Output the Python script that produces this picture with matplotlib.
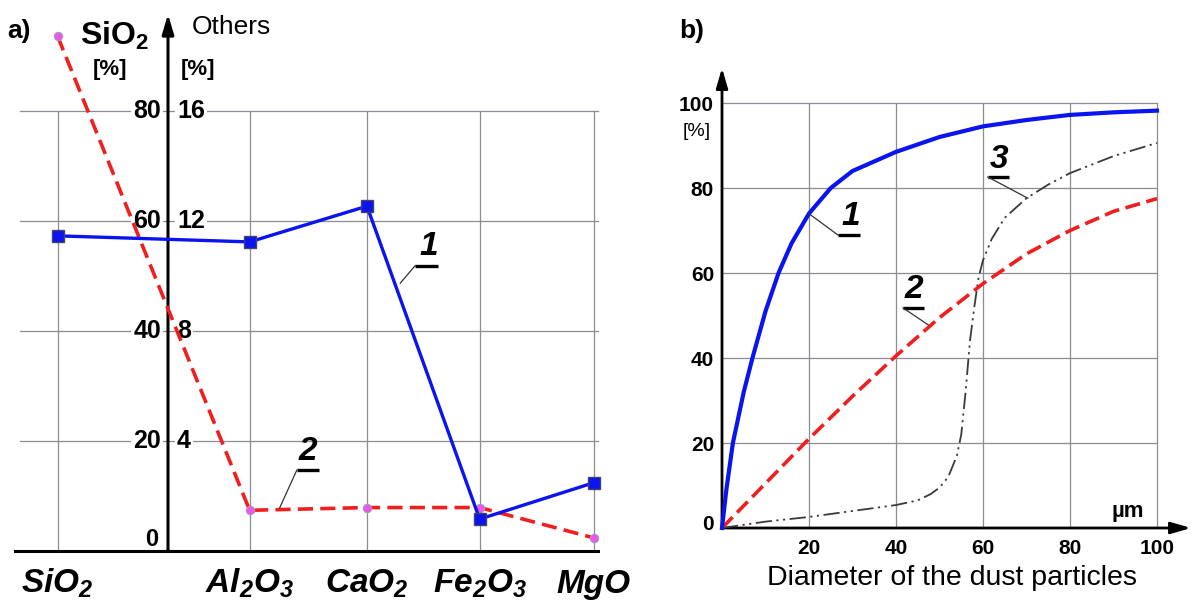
import matplotlib
matplotlib.use("Agg")
import matplotlib.pyplot as plt

plt.rcParams['font.family'] = ['Liberation Sans', 'DejaVu Sans']
plt.rcParams['mathtext.default'] = 'regular'

# ---------------- data ----------------
# panel a)
categories = ["SiO$_2$", "Al$_2$O$_3$", "CaO$_2$", "Fe$_2$O$_3$", "MgO"]
cat_pos = [-0.96, 0.71, 1.73, 2.71, 3.70]          # layout positions along x
# series values: SiO2 in SiO2-scale [%], others in "Others" scale [%]
s1_sio2 = 57.3
s1_others = [11.24, 12.54, 1.16, 2.48]
s2_sio2 = 93.6
s2_others = [1.48, 1.58, 1.58, 0.48]
others_factor = 5.0                                  # 16 % others == 80 % SiO2
sio2_ticks = [0, 20, 40, 60, 80]
others_ticks = [4, 8, 12, 16]

# panel b)
c1_x = [0, 1, 2.5, 5, 7, 10, 13, 16, 20, 25, 30, 40, 50, 60, 70, 80, 90, 100]
c1_y = [0, 9, 20, 32, 40, 51, 60, 67, 74, 80, 84, 88.5, 92, 94.5, 96, 97.2, 97.8, 98.2]
c2_x = [0, 10, 20, 30, 40, 50, 60, 70, 80, 90, 100]
c2_y = [0, 10.5, 21, 31, 40.5, 49.5, 57.5, 64.5, 70, 74.5, 77.5]
c3_x = [0, 10, 20, 30, 40, 45, 48, 50, 52, 54, 55, 56, 57, 58, 59, 60, 62, 65, 70, 75, 80, 90, 100]
c3_y = [0, 1.5, 2.6, 4, 5.4, 6.5, 8, 9.5, 12, 17, 22, 32, 44, 52, 59, 63, 68, 73, 77.6, 80.8, 83.5, 87.5, 90.6]
b_xticks = [20, 40, 60, 80, 100]
b_yticks = [0, 20, 40, 60, 80, 100]

BLUE = '#0a14f0'
RED = '#f01e1e'
GRID = '#8c8c94'

W, H = 1192, 608
fig = plt.figure(figsize=(W / 100, H / 100), dpi=100)
fig.patch.set_facecolor('white')

def fx(px):
    return px / W

def fy(py):
    return 1 - py / H

# ---------------- panel a ----------------
# pixel mapping: px = 168 + 115*pos ; py = 551 - 5.5*y
axL_px = (10, 610)
axL_py = (0, 608)  # top, bottom
axa = fig.add_axes([axL_px[0] / W, (H - axL_py[1]) / H,
                    (axL_px[1] - axL_px[0]) / W, (axL_py[1] - axL_py[0]) / H])
axa.set_xlim((axL_px[0] - 168) / 115, (axL_px[1] - 168) / 115)
axa.set_ylim((551 - axL_py[1]) / 5.5, (551 - axL_py[0]) / 5.5)
axa.axis('off')

xl0, xl1 = (20 - 168) / 115, (598 - 168) / 115
for t in sio2_ticks[1:]:
    axa.plot([xl0, xl1], [t, t], color=GRID, lw=0.9, zorder=1)
for p in cat_pos:
    axa.plot([p, p], [0, sio2_ticks[-1]], color=GRID, lw=0.9, zorder=1)

# axes
axa.plot([(15 - 168) / 115, (598 - 168) / 115], [0, 0], color='black', lw=2.2, zorder=3)
axa.annotate('', xy=(0, (551 - 14) / 5.5), xytext=(0, 0),
             arrowprops=dict(arrowstyle='-|>,head_length=1.2,head_width=0.35',
                             color='black', lw=2.2, shrinkA=0, shrinkB=0), zorder=3)

# tick labels
tfs = 18
for t in sio2_ticks:
    if t == 0:
        axa.text((158 - 168) / 115, t + 2.0, str(t), ha='right', va='center',
                 fontsize=tfs - 1, fontweight='bold', zorder=4)
    else:
        axa.text((161 - 168) / 115, t, str(t), ha='right', va='center',
                 fontsize=tfs, fontweight='bold', zorder=4,
                 bbox=dict(fc='white', ec='none', pad=1.5))
for t in others_ticks:
    axa.text((177 - 168) / 115, t * others_factor, str(t), ha='left', va='center',
             fontsize=tfs, fontweight='bold', zorder=4,
             bbox=dict(fc='white', ec='none', pad=1.5))

# titles
fig.text(fx(7), fy(31), 'a)', ha='left', va='center', fontsize=19, fontweight='bold')
fig.text(fx(80), fy(45), 'SiO$_2$', ha='left', va='baseline', fontsize=23, fontweight='bold')
fig.text(fx(192), fy(27), 'Others', ha='left', va='center', fontsize=19)
fig.text(fx(110), fy(69), '[%]', ha='center', va='center', fontsize=16, fontweight='bold')
fig.text(fx(198), fy(69), '[%]', ha='center', va='center', fontsize=16, fontweight='bold')

# series
s1 = [s1_sio2] + [v * others_factor for v in s1_others]
s2 = [s2_sio2] + [v * others_factor for v in s2_others]
axa.plot(cat_pos, s2, color=RED, lw=2.6, dashes=(4.2, 2.0), zorder=5,
         marker='o', ms=6, mfc='#ee55ee', mec='#a0a0b0', mew=0.8)
axa.plot(cat_pos, s1, color=BLUE, lw=2.4, zorder=6,
         marker='s', ms=8, mfc=BLUE, mec='#444466', mew=1.0)

# category labels
for p, c in zip(cat_pos, categories):
    axa.text(p, (551 - 593) / 5.5, c, ha='center', va='baseline', fontsize=24,
             fontweight='bold', style='italic')

def label(ax, txt, tx, ty, ux0, ux1, uy, lx, ly, fs=24):
    ax.text(tx, ty, txt, ha='center', va='center', fontsize=fs,
            fontweight='bold', style='italic', zorder=7)
    ax.plot([ux0, ux1], [uy, uy], color='black', lw=2.4, zorder=7,
            solid_capstyle='butt')
    ax.plot([ux0, lx], [uy, ly], color='#333333', lw=0.9, zorder=7)

label(axa, '1', 2.27, 55.4, 2.15, 2.35, 51.9, 2.02, 48.7)
label(axa, '2', 1.22, 18.0, 1.12, 1.31, 14.7, 0.97, 7.8)

# ---------------- panel b ----------------
# pixel mapping: px = 722 + 4.35*x ; py = 528 - 4.25*y
axR_px = (672, 1192)
axR_py = (0, 608)
axb = fig.add_axes([axR_px[0] / W, (H - axR_py[1]) / H,
                    (axR_px[1] - axR_px[0]) / W, (axR_py[1] - axR_py[0]) / H])
axb.set_xlim((axR_px[0] - 722) / 4.35, (axR_px[1] - 722) / 4.35)
axb.set_ylim((528 - axR_py[1]) / 4.25, (528 - axR_py[0]) / 4.25)
axb.axis('off')

for t in b_yticks[1:]:
    axb.plot([0, 100], [t, t], color=GRID, lw=0.9, zorder=1)
for t in b_xticks:
    axb.plot([t, t], [0, 100], color=GRID, lw=0.9, zorder=1)

axb.annotate('', xy=((1191 - 722) / 4.35, 0), xytext=(0, 0),
             arrowprops=dict(arrowstyle='-|>,head_length=1.2,head_width=0.35',
                             color='black', lw=2.0, shrinkA=0, shrinkB=0), zorder=3)
axb.annotate('', xy=(0, (528 - 68) / 4.25), xytext=(0, 0),
             arrowprops=dict(arrowstyle='-|>,head_length=1.2,head_width=0.35',
                             color='black', lw=2.0, shrinkA=0, shrinkB=0), zorder=3)

for t in b_yticks:
    axb.text((714 - 722) / 4.35, t + (0.8 if t == 0 else -0.6), str(t), ha='right', va='center',
             fontsize=15, fontweight='bold')
axb.text((697 - 722) / 4.35, (528 - 131) / 4.25, '[%]', ha='center', va='center', fontsize=14)
for t in b_xticks:
    axb.text(t, (528 - 548) / 4.25, str(t), ha='center', va='center',
             fontsize=15, fontweight='bold')
axb.text((1128 - 722) / 4.35, (528 - 511) / 4.25, 'µm', ha='center', va='center',
         fontsize=16, fontweight='bold')
axb.text((952 - 722) / 4.35, (528 - 578) / 4.25, 'Diameter of the dust particles',
         ha='center', va='center', fontsize=20.5)
fig.text(fx(679), fy(31), 'b)', ha='left', va='center', fontsize=19, fontweight='bold')

axb.plot(c3_x, c3_y, color='#3a3a3a', lw=1.3, dashes=(9, 2.5, 1.2, 2.5, 1.2, 2.5), zorder=4)
axb.plot(c2_x, c2_y, color=RED, lw=2.6, dashes=(4.2, 1.8), zorder=5)
axb.plot(c1_x, c1_y, color=BLUE, lw=3.0, zorder=6)

label(axb, '1', 29.6, 73.3, 26.7, 31.7, 68.9, 19.8, 74.1)
label(axb, '3', 63.6, 86.8, 61.1, 65.9, 82.6, 70.3, 77.6)
label(axb, '2', 44.0, 56.0, 41.6, 46.4, 51.8, 47.4, 47.8)

fig.savefig('out.png', dpi=100, facecolor='white')
